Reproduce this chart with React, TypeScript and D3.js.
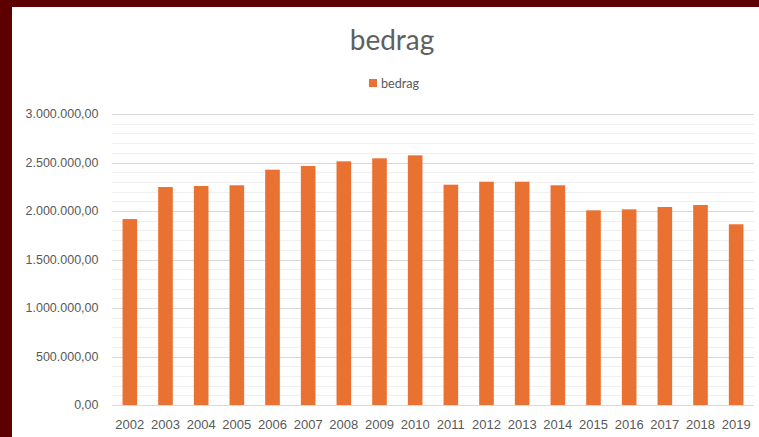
import React from "react";
import * as d3 from "d3";

const years = [
  "2002", "2003", "2004", "2005", "2006", "2007", "2008", "2009", "2010",
  "2011", "2012", "2013", "2014", "2015", "2016", "2017", "2018", "2019",
];
const bedrag = [
  1917000, 2247000, 2258000, 2265000, 2426000, 2464000, 2512000, 2543000, 2574000,
  2271000, 2302000, 2302000, 2265000, 2007000, 2017000, 2041000, 2062000, 1863000,
];
const majorTicks = [0, 500000, 1000000, 1500000, 2000000, 2500000, 3000000];

const width = 759;
const height = 437;
const margin = { top: 114, right: 5, bottom: 32, left: 112 };
const textColor = "#595959";
const barColor = "#E97132";

const fmt = (v: number) => {
  const s = d3.format(",.2f")(v);
  return s.replace(/,/g, "#").replace(".", ",").replace(/#/g, ".");
};

const App: React.FC = () => {
  const x = d3
    .scaleBand<string>()
    .domain(years)
    .range([margin.left, width - margin.right])
    .paddingInner(0.59)
    .paddingOuter(0.295);

  const y = d3
    .scaleLinear()
    .domain([0, 3000000])
    .range([height - margin.bottom, margin.top]);

  const minorTicks = d3.range(0, 3000001, 100000).filter((v) => v % 500000 !== 0);

  return (
    <svg
      width={width}
      height={height}
      style={{ position: "absolute", left: 0, top: 0 }}
    >
      <rect x={0} y={0} width={width} height={height} fill="#5e0000" />
      <rect x={12} y={7} width={width - 12} height={height - 7} fill="#ffffff" />

      <text
        x={392}
        y={50}
        textAnchor="middle"
        fontFamily="Lato, 'Open Sans', sans-serif"
        fontSize={28}
        fill="#606060"
      >
        bedrag
      </text>

      <rect x={369} y={79} width={8} height={8} fill={barColor} />
      <text
        x={381}
        y={87.5}
        fontFamily="Lato, 'Open Sans', sans-serif"
        fontSize={12.6}
        fill={textColor}
      >
        bedrag
      </text>

      {minorTicks.map((t) => (
        <line
          key={"m" + t}
          x1={margin.left}
          x2={width - margin.right}
          y1={Math.round(y(t)) + 0.5}
          y2={Math.round(y(t)) + 0.5}
          stroke="#f0f0f0"
        />
      ))}
      {majorTicks.map((t) => (
        <line
          key={"M" + t}
          x1={margin.left}
          x2={width - margin.right}
          y1={Math.round(y(t)) + 0.5}
          y2={Math.round(y(t)) + 0.5}
          stroke="#d9d9d9"
        />
      ))}

      {years.map((yr, i) => (
        <rect
          key={yr}
          x={x(yr)}
          y={y(bedrag[i])}
          width={x.bandwidth()}
          height={y(0) - y(bedrag[i])}
          fill={barColor}
        />
      ))}

      {majorTicks.map((t) => (
        <text
          key={"yl" + t}
          x={98.5}
          y={y(t)}
          dy="0.35em"
          textAnchor="end"
          fontFamily="'Liberation Sans', Arial, sans-serif"
          fontSize={12.5}
          fill={textColor}
        >
          {fmt(t)}
        </text>
      ))}

      {years.map((yr) => (
        <text
          key={"xl" + yr}
          x={(x(yr) ?? 0) + x.bandwidth() / 2}
          y={429}
          textAnchor="middle"
          fontFamily="'Liberation Sans', Arial, sans-serif"
          fontSize={13}
          fill={textColor}
        >
          {yr}
        </text>
      ))}
    </svg>
  );
};

export default App;
